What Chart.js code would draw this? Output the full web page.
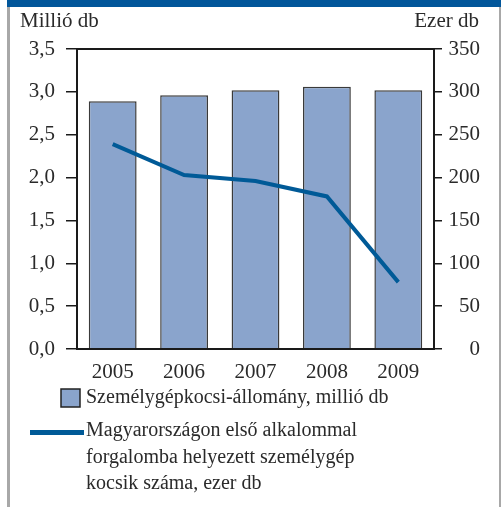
<!DOCTYPE html>
<html>
<head>
<meta charset="utf-8">
<script src="https://cdn.jsdelivr.net/npm/chart.js@4.4.1/dist/chart.umd.min.js"></script>
<style>
  html, body { margin: 0; padding: 0; background: #ffffff; }
  #wrap { position: relative; width: 501px; height: 507px; }
</style>
</head>
<body>
<div id="wrap"><canvas id="c" width="501" height="507"></canvas></div>
<script>
// Évek
const years = ['2005', '2006', '2007', '2008', '2009'];
// Személygépkocsi-állomány, millió db
const stockMillion = [2.89, 2.96, 3.02, 3.06, 3.02];
// Első alkalommal forgalomba helyezett személygépkocsik, ezer db
const newRegThousand = [239, 203, 196, 178, 78];

const stockLabel = 'Személygépkocsi-állomány, millió db';
const newRegLabel = ['Magyarországon első alkalommal', 'forgalomba helyezett személygép', 'kocsik száma, ezer db'];
const leftTitle = 'Millió db';
const rightTitle = 'Ezer db';

const FONT = '"Liberation Serif", "Times New Roman", serif';
const BAR_FILL = '#8aa4cc';
const BAR_EDGE = '#3a3a3a';
const LINE_BLUE = '#005a97';

// Keret, tengelycímek, lezárt rajzterület és jelmagyarázat
const decor = {
  id: 'decor',
  beforeDraw(chart) {
    const ctx = chart.ctx;
    ctx.save();
    ctx.fillStyle = '#ffffff';
    ctx.fillRect(0, 0, chart.width, chart.height);
    ctx.fillStyle = '#01569a';
    ctx.fillRect(7, 0, chart.width - 7, 7);
    ctx.fillStyle = '#a8a8a8';
    ctx.fillRect(7, 7, 3, chart.height - 7);
    ctx.fillRect(chart.width - 2, 7, 2, chart.height - 7);
    ctx.restore();
  },
  afterDraw(chart) {
    const ctx = chart.ctx;
    const a = chart.chartArea;
    ctx.save();
    ctx.strokeStyle = '#1a1a1a';
    ctx.lineWidth = 2;
    ctx.strokeRect(a.left, a.top, a.right - a.left, a.bottom - a.top);

    ctx.fillStyle = '#2a2a2a';
    ctx.font = '21px ' + FONT;
    ctx.textBaseline = 'middle';
    ctx.textAlign = 'left';
    ctx.fillText(leftTitle, 20, 21);
    ctx.textAlign = 'right';
    ctx.fillText(rightTitle, 479, 21);

    // jelmagyarázat
    ctx.font = '20px ' + FONT;
    ctx.textAlign = 'left';
    ctx.fillStyle = BAR_FILL;
    ctx.fillRect(61, 389, 19, 18);
    ctx.strokeStyle = '#222222';
    ctx.lineWidth = 1.5;
    ctx.strokeRect(61, 389, 19, 18);
    ctx.fillStyle = '#2a2a2a';
    ctx.fillText(stockLabel, 86, 398);

    ctx.fillStyle = LINE_BLUE;
    ctx.fillRect(30, 430, 54, 5);
    ctx.fillStyle = '#2a2a2a';
    newRegLabel.forEach((t, i) => ctx.fillText(t, 86, 431 + i * 26.5));
    ctx.restore();
  }
};

new Chart(document.getElementById('c'), {
  data: {
    labels: years,
    datasets: [
      {
        type: 'line',
        label: newRegLabel.join(' '),
        data: newRegThousand,
        yAxisID: 'y1',
        borderColor: LINE_BLUE,
        borderWidth: 4,
        pointRadius: 0,
        tension: 0,
        order: 0
      },
      {
        type: 'bar',
        label: stockLabel,
        data: stockMillion,
        yAxisID: 'y',
        backgroundColor: BAR_FILL,
        borderColor: BAR_EDGE,
        borderWidth: 1.5,
        categoryPercentage: 1,
        barPercentage: 0.67,
        order: 1
      }
    ]
  },
  plugins: [decor],
  options: {
    responsive: false,
    animation: false,
    devicePixelRatio: 1,
    layout: { padding: { left: 0, right: 21, top: 49, bottom: 118 } },
    plugins: { legend: { display: false }, tooltip: { enabled: false } },
    scales: {
      x: {
        grid: { display: false },
        border: { display: true, color: '#1a1a1a', width: 2 },
        ticks: { color: '#2a2a2a', font: { family: FONT, size: 21 }, padding: 3 },
        afterFit(s) { s.height = 40; }
      },
      y: {
        position: 'left',
        min: 0, max: 3.5,
        grid: { drawOnChartArea: false, drawTicks: true, tickLength: 11, color: '#1a1a1a', lineWidth: 1.5 },
        border: { display: true, color: '#1a1a1a', width: 2 },
        ticks: {
          stepSize: 0.5, padding: 11, color: '#2a2a2a',
          font: { family: FONT, size: 21 },
          callback: v => v.toFixed(1).replace('.', ',')
        },
        afterFit(s) { s.width = 77; }
      },
      y1: {
        position: 'right',
        min: 0, max: 350,
        grid: { drawOnChartArea: false, drawTicks: true, tickLength: 8, color: '#1a1a1a', lineWidth: 1.5 },
        border: { display: true, color: '#1a1a1a', width: 2 },
        ticks: {
          stepSize: 50, padding: 6, color: '#2a2a2a', crossAlign: 'far',
          font: { family: FONT, size: 21 }
        },
        afterFit(s) { s.width = 46; }
      }
    }
  }
});
</script>
</body>
</html>
